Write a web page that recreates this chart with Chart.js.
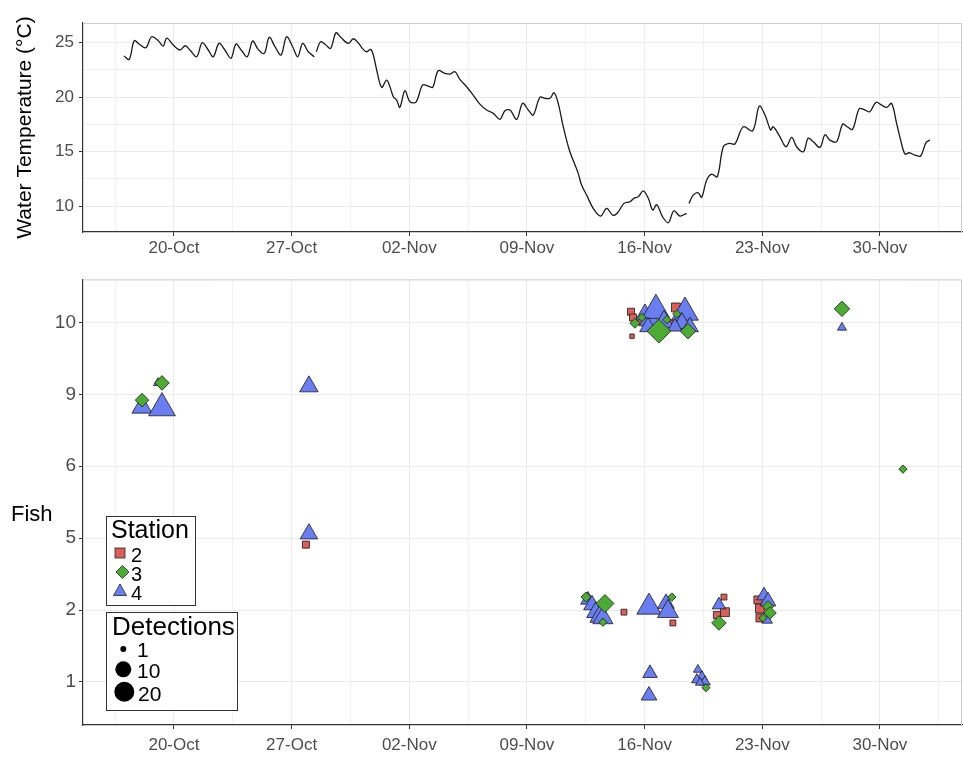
<!DOCTYPE html>
<html>
<head>
<meta charset="utf-8">
<script src="https://cdn.jsdelivr.net/npm/chart.js@4.4.1/dist/chart.umd.min.js"></script>
<style>
  html, body { margin: 0; padding: 0; background: #fff; }
  body { width: 963px; height: 757px; position: relative; overflow: hidden; font-family: "Liberation Sans", Arial, sans-serif; }
  canvas { position: absolute; left: 0; }
  #tempChart { top: 0; }
  #fishChart { top: 265px; }
  .txt { position: absolute; line-height: 1; white-space: nowrap; color: #000; }
  .box { position: absolute; border: 1px solid #333; background: #fff; box-sizing: border-box; }
  #keys { position: absolute; left: 0; top: 0; }
</style>
</head>
<body>
<canvas id="tempChart" width="963" height="265"></canvas>
<canvas id="fishChart" width="963" height="492"></canvas>

<div class="txt" style="left:11px;top:503px;font-size:22px">Fish</div>

<div class="box" style="left:106px;top:516px;width:90px;height:90px"></div>
<div class="box" style="left:106px;top:612px;width:132px;height:99px"></div>
<svg id="keys" width="963" height="757">
  <rect x="115" y="548" width="10" height="10" fill="#D9605A" stroke="#222" stroke-width="0.8"/>
  <polygon points="116,572 122.5,565.5 129,572 122.5,578.5" fill="#4DAA35" stroke="#222" stroke-width="0.8"/>
  <polygon points="113.5,595.5 126.5,595.5 120,584" fill="#6A7EF2" stroke="#222" stroke-width="0.8"/>
  <circle cx="123.3" cy="649" r="3" fill="#000"/>
  <circle cx="123.3" cy="669.3" r="8" fill="#000"/>
  <circle cx="124.3" cy="691.7" r="10" fill="#000"/>
</svg>
<div class="txt" style="left:111px;top:517px;font-size:25px">Station</div>
<div class="txt" style="left:131px;top:545px;font-size:20px">2</div>
<div class="txt" style="left:131px;top:564px;font-size:20px">3</div>
<div class="txt" style="left:131px;top:582.5px;font-size:20px">4</div>
<div class="txt" style="left:112px;top:613px;font-size:26px">Detections</div>
<div class="txt" style="left:137px;top:639px;font-size:21px">1</div>
<div class="txt" style="left:137px;top:660px;font-size:21px">10</div>
<div class="txt" style="left:138px;top:683px;font-size:21px">20</div>

<script>
// x values are days after 20-Oct
const weekLabels = ['20-Oct', '27-Oct', '02-Nov', '09-Nov', '16-Nov', '23-Nov', '30-Nov'];
const weekDays = [0, 7, 14, 21, 28, 35, 42];
const gridDays = [-3.5, 0, 3.5, 7, 10.5, 14, 17.5, 21, 24.5, 28, 31.5, 35, 38.5, 42, 45.5];
const tempTicks = [10, 12.5, 15, 17.5, 20, 22.5, 25];
const fishLabels = ['1', '2', '5', '6', '9', '10'];
const fishTicks = [1, 2, 3, 4, 5, 6];

// water temperature (null = logger gap)
const tempDay = [-2.97,-2.66,-2.36,-2.06,-1.67,-1.33,-0.93,-0.64,-0.43,-0.04,0.36,0.67,0.95,1.35,1.68,2.04,2.34,2.68,3.03,3.39,3.69,4.03,4.36,4.68,5.01,5.37,5.67,6.01,6.37,6.70,7.06,7.36,7.66,7.99,8.35,
  8.41,
  8.47,8.73,9.04,9.32,9.64,9.92,10.37,10.67,10.96,11.26,11.46,11.70,11.86,12.06,12.36,12.65,12.85,13.05,13.25,13.44,13.74,14.04,14.40,14.79,15.13,15.39,15.72,16.12,16.42,16.72,17.01,17.41,17.80,18.20,18.60,19.00,19.39,19.69,19.99,20.39,20.74,21.08,21.37,21.77,22.07,22.37,22.61,22.86,23.16,23.52,23.86,24.05,24.25,24.55,24.94,25.38,25.74,26.10,26.37,26.77,27.13,27.36,27.62,27.92,28.22,28.48,28.72,29.07,29.41,29.74,30.10,30.50,
  30.57,
  30.64,30.89,31.19,31.39,31.69,31.99,32.32,32.68,33.03,33.37,33.87,34.43,34.82,35.16,35.50,35.65,36.05,36.41,36.75,37.04,37.44,37.73,38.03,38.43,38.73,39.02,39.42,39.78,40.05,40.37,40.77,41.11,41.40,41.76,42.10,42.40,42.69,42.99,43.23,43.49,43.74,44.08,44.42,44.73,44.97];
const tempC = [23.75,23.44,25.15,24.82,24.51,25.51,25.15,24.66,25.39,24.75,24.30,24.69,24.30,23.68,24.96,24.30,23.68,24.91,24.30,23.54,24.84,24.23,23.68,25.12,24.36,23.99,25.46,24.60,23.84,25.51,24.60,23.68,24.91,24.14,23.68,
  null,
  24.14,25.05,24.75,24.45,25.88,25.46,24.91,25.33,24.96,24.36,24.14,24.36,23.84,22.47,20.88,21.55,20.94,20.03,19.72,19.05,20.57,19.57,19.54,21.09,21.00,20.88,22.40,22.16,22.10,22.31,21.61,20.94,20.18,19.35,18.81,18.50,17.96,18.74,18.81,17.96,19.42,18.81,18.35,19.97,19.88,19.88,20.39,19.42,17.28,15.15,13.77,13.01,11.94,11.03,9.81,9.11,9.81,9.20,9.36,10.27,10.42,10.73,10.87,11.42,10.73,9.66,10.14,9.04,8.50,9.59,9.11,9.36,
  null,
  10.27,11.03,11.24,10.82,12.40,12.95,12.70,15.45,15.76,15.70,17.28,16.91,19.17,18.35,16.98,17.28,16.36,15.45,16.31,15.45,14.99,16.22,15.91,15.39,16.55,16.06,15.91,17.53,17.28,17.04,18.93,18.81,18.65,19.51,19.26,19.05,19.42,17.59,16.06,14.78,14.90,14.69,14.60,15.81,16.06];

// detections per station: day, fish row position (1..6, jittered), detections
const st2Day = [7.85, 27.19, 27.31, 27.25, 27.72, 29.86, 29.68, 30.16, 26.77, 29.68, 32.78, 32.72, 32.30, 34.74, 34.86, 34.86];
const st2Pos = [2.91, 6.15, 6.07, 5.81, 6.01, 6.21, 5.99, 5.93, 1.97, 1.82, 1.97, 2.18, 1.93, 2.14, 2.02, 1.89];
const st2Det = [3, 3, 3, 1, 2, 5, 3, 2, 2, 2, 5, 2, 3, 4, 5, 4];

const st3Day = [-0.71, -1.90, 43.37, 39.74, 27.42, 27.84, 28.85, 29.92, 30.58, 29.33, 24.51, 25.64, 25.52, 29.62, 32.42, 35.34, 35.46, 35.04, 31.65];
const st3Pos = [5.16, 4.92, 3.96, 6.19, 5.99, 6.07, 5.88, 6.12, 5.88, 6.04, 2.18, 2.09, 1.83, 2.18, 1.82, 2.05, 1.96, 1.89, 0.92];
const st3Det = [7, 6, 2, 8, 3, 2, 20, 2, 8, 2, 3, 11, 2, 2, 7, 4, 5, 2, 2];

const st4Day = [-1.90, -0.71, -0.95, 8.03, 8.03, 39.74, 28.02, 28.32, 28.67, 28.20, 29.15, 30.40, 30.22, 30.70, 29.80, 24.63, 24.87, 25.10, 25.34, 25.52, 28.26, 29.27, 29.39, 32.42, 35.10, 35.34, 35.28, 28.32, 28.26, 31.17, 31.41, 31.11, 31.59, 31.29];
const st4Pos = [4.82, 4.81, 5.16, 5.11, 3.06, 5.93, 6.11, 6.04, 6.17, 5.94, 6.01, 6.14, 5.99, 5.94, 5.94, 2.14, 2.07, 1.97, 1.91, 1.89, 2.04, 2.09, 1.98, 2.07, 2.20, 2.12, 1.86, 1.12, 0.81, 1.17, 1.07, 1.03, 1.00, 0.99];
const st4Det = [12, 22, 2, 10, 9, 2, 10, 14, 24, 8, 12, 22, 10, 8, 6, 6, 8, 10, 12, 12, 18, 8, 13, 5, 6, 7, 3, 6, 7, 2, 3, 3, 3, 2];

const FONT = '"Liberation Sans", Arial, sans-serif';
const dark = '#333333';
const gridCol = '#EBEBEB';
const tickText = '#4D4D4D';

// circle radius for a detection count (area scale)
function markerSize(det) {
  return (5 + 4.03 * (Math.sqrt(det) - 1)) / 2;
}

const frame = {
  id: 'frame',
  afterDraw(chart) {
    const a = chart.chartArea, ctx = chart.ctx;
    ctx.save();
    ctx.strokeStyle = '#CCCCCC';
    ctx.lineWidth = 1;
    ctx.beginPath();
    ctx.moveTo(a.left, a.top + 0.5);
    ctx.lineTo(a.right - 0.5, a.top + 0.5);
    ctx.lineTo(a.right - 0.5, a.bottom);
    ctx.stroke();
    ctx.restore();
  }
};

function xAxis(h, pad) {
  return {
    type: 'linear',
    min: -5.41,
    max: 46.88,
    afterBuildTicks: s => { s.ticks = gridDays.map(v => ({ value: v })); },
    ticks: {
      autoSkip: false, maxRotation: 0, color: tickText, padding: pad,
      font: { family: FONT, size: 17 },
      callback: v => { const i = weekDays.indexOf(v); return i >= 0 ? weekLabels[i] : ''; }
    },
    grid: {
      color: gridCol,
      lineWidth: c => (c.tick && weekDays.includes(c.tick.value)) ? 1 : 0.7,
      tickColor: c => (c.tick && weekDays.includes(c.tick.value)) ? dark : 'rgba(0,0,0,0)',
      tickLength: 4
    },
    border: { color: dark, width: 1.2 },
    afterFit: s => { s.height = h; }
  };
}

new Chart(document.getElementById('tempChart'), {
  type: 'line',
  data: {
    datasets: [{
      data: tempDay.map((d, i) => ({ x: d, y: tempC[i] })),
      borderColor: '#1a1a1a',
      borderWidth: 1.3,
      pointRadius: 0,
      tension: 0.35,
      spanGaps: false,
      fill: false
    }]
  },
  options: {
    responsive: false,
    animation: false,
    events: [],
    layout: { autoPadding: false, padding: { top: 23, right: 1, left: 0, bottom: 0 } },
    plugins: { legend: { display: false }, tooltip: { enabled: false } },
    scales: {
      x: xAxis(33, 2),
      y: {
        type: 'linear',
        min: 7.65,
        max: 26.77,
        afterBuildTicks: s => { s.ticks = tempTicks.map(v => ({ value: v })); },
        ticks: {
          color: tickText, padding: 5,
          font: { family: FONT, size: 17 },
          callback: v => (v % 5 === 0 ? String(v) : '')
        },
        grid: {
          color: gridCol,
          lineWidth: c => (c.tick && c.tick.value % 5 === 0) ? 1 : 0.7,
          tickColor: c => (c.tick && c.tick.value % 5 === 0) ? dark : 'rgba(0,0,0,0)',
          tickLength: 4
        },
        border: { color: dark, width: 1.2 },
        title: {
          display: true,
          text: 'Water Temperature (°C)',
          color: '#000',
          font: { family: FONT, size: 21 },
          padding: { top: 13, bottom: 0 }
        },
        afterFit: s => { s.width = 83; }
      }
    }
  },
  plugins: [frame]
});

function stationSet(label, days, pos, det, style, color, k) {
  return {
    label: label,
    data: days.map((d, i) => ({ x: d, y: pos[i] })),
    pointStyle: style,
    backgroundColor: color,
    borderColor: '#1a1a1a',
    borderWidth: 0.8,
    pointRadius: c => k * markerSize(det[c.dataIndex]),
    pointHoverRadius: c => k * markerSize(det[c.dataIndex])
  };
}

new Chart(document.getElementById('fishChart'), {
  type: 'scatter',
  data: {
    datasets: [
      stationSet('3', st3Day, st3Pos, st3Det, 'rectRot', '#4DAA35', 1.253),
      stationSet('4', st4Day, st4Pos, st4Det, 'triangle', '#6A7EF2', 1.555),
      stationSet('2', st2Day, st2Pos, st2Det, 'rect', '#D9605A', 1.253)
    ]
  },
  options: {
    responsive: false,
    animation: false,
    events: [],
    layout: { autoPadding: false, padding: { top: 13, right: 1, left: 0, bottom: 0 } },
    plugins: { legend: { display: false }, tooltip: { enabled: false } },
    scales: {
      x: xAxis(32, 6),
      y: {
        type: 'linear',
        min: 0.4,
        max: 6.6,
        afterBuildTicks: s => { s.ticks = fishTicks.map(v => ({ value: v })); },
        ticks: {
          color: tickText, padding: 3,
          font: { family: FONT, size: 19 },
          callback: v => fishLabels[fishTicks.indexOf(v)]
        },
        grid: { color: gridCol, lineWidth: 1, tickColor: dark, tickLength: 4 },
        border: { color: dark, width: 1.2 },
        afterFit: s => { s.width = 83; }
      }
    }
  },
  plugins: [frame]
});
</script>
</body>
</html>
